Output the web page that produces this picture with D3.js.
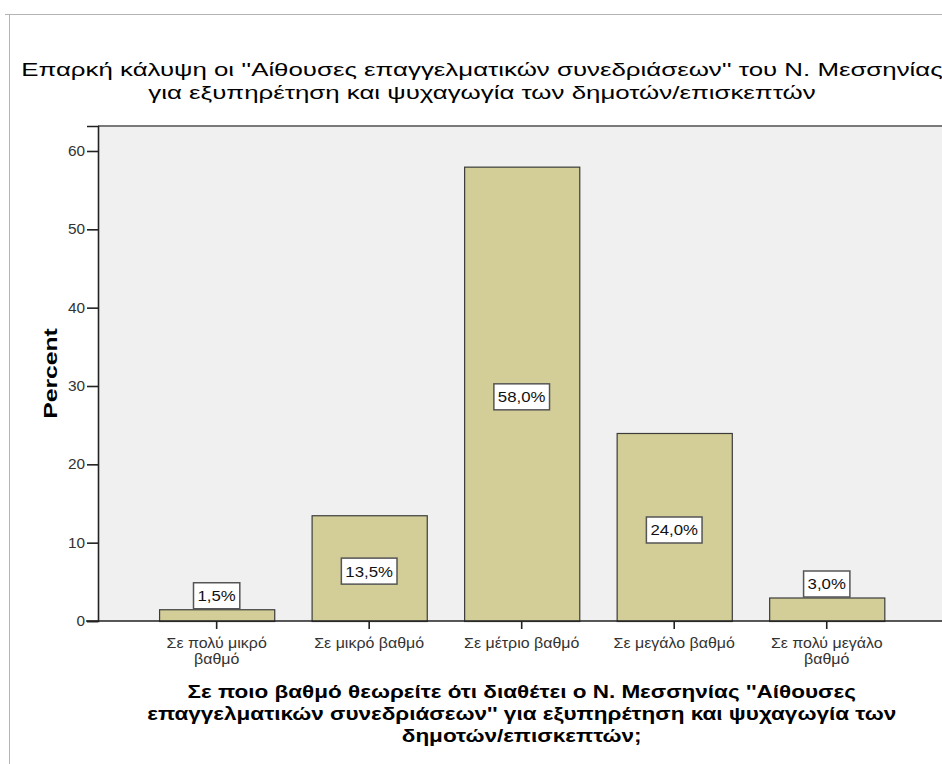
<!DOCTYPE html>
<html>
<head>
<meta charset="utf-8">
<script src="https://cdn.jsdelivr.net/npm/d3@7"></script>
<style>
  body { margin: 0; background: #fff; }
  svg { display: block; font-family: "Liberation Sans", Arial, sans-serif; }
</style>
</head>
<body>
<svg id="chart" width="942" height="764"></svg>
<script>
'use strict';

const categories = [
  "Σε πολύ μικρό βαθμό",
  "Σε μικρό βαθμό",
  "Σε μέτριο βαθμό",
  "Σε μεγάλο βαθμό",
  "Σε πολύ μεγάλο βαθμό"
];
const categoryLines = [
  ["Σε πολύ μικρό", "βαθμό"],
  ["Σε μικρό βαθμό"],
  ["Σε μέτριο βαθμό"],
  ["Σε μεγάλο βαθμό"],
  ["Σε πολύ μεγάλο", "βαθμό"]
];
const percents = [1.5, 13.5, 58.0, 24.0, 3.0];
const yTicks = [0, 10, 20, 30, 40, 50, 60];
const titleLines = [
  "Επαρκή κάλυψη οι ''Αίθουσες επαγγελματικών συνεδριάσεων'' του Ν. Μεσσηνίας",
  "για εξυπηρέτηση και ψυχαγωγία των δημοτών/επισκεπτών"
];
const xTitleLines = [
  "Σε ποιο βαθμό θεωρείτε ότι διαθέτει ο Ν. Μεσσηνίας ''Αίθουσες",
  "επαγγελματικών συνεδριάσεων'' για εξυπηρέτηση και ψυχαγωγία των",
  "δημοτών/επισκεπτών;"
];
const yTitle = "Percent";

const svg = d3.select("#chart");

const plot = { left: 98, top: 126, right: 960, bottom: 621 };

// the picture's lettering runs wider than Liberation Sans, stretch it a bit
function stretch(sel, ratio) {
  sel.each(function() {
    const len = this.getComputedTextLength();
    d3.select(this).attr("textLength", len * ratio).attr("lengthAdjust", "spacingAndGlyphs");
  });
}

const x = d3.scaleBand()
  .domain(categories)
  .range([140.4, 903])
  .paddingInner(0.245)
  .paddingOuter(0.1225);

const y = d3.scaleLinear()
  .domain([0, 63.19])
  .range([plot.bottom, plot.top]);

// outer frame
svg.append("path")
  .attr("d", `M5,14.5H942M9.5,14V764`)
  .attr("fill", "none")
  .attr("stroke", "#b4b4b4")
  .attr("stroke-width", 1);

// plot background
svg.append("rect")
  .attr("x", plot.left)
  .attr("y", plot.top)
  .attr("width", plot.right - plot.left)
  .attr("height", plot.bottom - plot.top)
  .attr("fill", "#f0f0f0");

svg.append("line")
  .attr("x1", plot.left).attr("x2", plot.right)
  .attr("y1", plot.top).attr("y2", plot.top)
  .attr("stroke", "#7a7a7a")
  .attr("stroke-width", 2);

// bars
svg.append("g")
  .selectAll("rect")
  .data(percents)
  .join("rect")
  .attr("x", (d, i) => x(categories[i]) + 0.5)
  .attr("y", d => y(d) + 0.5)
  .attr("width", x.bandwidth())
  .attr("height", d => y(0) - y(d))
  .attr("fill", "#d3ce97")
  .attr("stroke", "#3c3c3c")
  .attr("stroke-width", 1.2);

// y axis
const yAxis = svg.append("g")
  .attr("transform", `translate(${plot.left},0)`)
  .call(d3.axisLeft(y).tickValues(yTicks).tickSize(11).tickPadding(2).tickFormat(d3.format("d")));
yAxis.select(".domain").attr("stroke", "#222").attr("stroke-width", 1.6);
yAxis.selectAll(".tick line").attr("stroke", "#222").attr("stroke-width", 1.6);
yAxis.selectAll(".tick text")
  .attr("fill", "#333")
  .style("font-size", "14px")
  .style("font-family", "Liberation Sans, Arial, sans-serif")
  .call(stretch, 1.1);

// x axis
const xAxis = svg.append("g")
  .attr("transform", `translate(0,${plot.bottom})`)
  .call(d3.axisBottom(x).tickSize(8).tickFormat(""));
xAxis.select(".domain").remove();
xAxis.selectAll(".tick line").attr("stroke", "#222").attr("stroke-width", 1.6);
svg.append("line")
  .attr("x1", 86).attr("x2", 942)
  .attr("y1", plot.bottom).attr("y2", plot.bottom)
  .attr("stroke", "#222")
  .attr("stroke-width", 1.6);

xAxis.selectAll(".tick").each(function(d, i) {
  const t = d3.select(this).append("text")
    .attr("fill", "#333")
    .attr("text-anchor", "middle")
    .style("font-size", "14px")
    .style("font-family", "Liberation Sans, Arial, sans-serif");
  categoryLines[i].forEach((line, j) => {
    t.append("tspan").attr("x", 0).attr("y", 27 + j * 16).text(line);
  });
  t.selectAll("tspan").call(stretch, 1.14);
});

// value labels
const labels = svg.append("g");
percents.forEach((v, i) => {
  const cx = x(categories[i]) + x.bandwidth() / 2;
  const txt = d3.format(".1f")(v).replace(".", ",") + "%";
  const g = labels.append("g");
  const t = g.append("text")
    .attr("text-anchor", "middle")
    .attr("fill", "#111")
    .style("font-size", "15px")
    .text(txt);
  t.call(stretch, 1.12);
  const w = +t.attr("textLength") + 8;
  const h = 26;
  const cy = v > 8 ? (y(v / 2) + 3) : (y(v) - h / 2 - 0.5);
  g.insert("rect", "text")
    .attr("x", cx - w / 2)
    .attr("y", cy - h / 2)
    .attr("width", w)
    .attr("height", h)
    .attr("fill", "#fff")
    .attr("stroke", "#555")
    .attr("stroke-width", 1.5);
  t.attr("x", cx).attr("y", cy + 5.5);
});

// chart title
const title = svg.append("text")
  .attr("text-anchor", "middle")
  .attr("fill", "#000")
  .style("font-size", "19px");
titleLines.forEach((line, j) => {
  title.append("tspan").attr("x", 482).attr("y", 76 + j * 23).text(line);
});
title.selectAll("tspan").call(stretch, 1.36);

// y axis title
const yt = svg.append("text")
  .attr("transform", `translate(57,${(plot.top + plot.bottom) / 2}) rotate(-90)`)
  .attr("text-anchor", "middle")
  .attr("fill", "#000")
  .style("font-size", "19px")
  .style("font-weight", "bold")
  .text(yTitle);
yt.call(stretch, 1.3);

// x axis title
const xTitle = svg.append("text")
  .attr("text-anchor", "middle")
  .attr("fill", "#000")
  .style("font-size", "18px")
  .style("font-weight", "bold");
xTitleLines.forEach((line, j) => {
  xTitle.append("tspan").attr("x", (140.4 + 903) / 2).attr("y", 698 + j * 22).text(line);
});
xTitle.selectAll("tspan").call(stretch, 1.25);
</script>
</body>
</html>
